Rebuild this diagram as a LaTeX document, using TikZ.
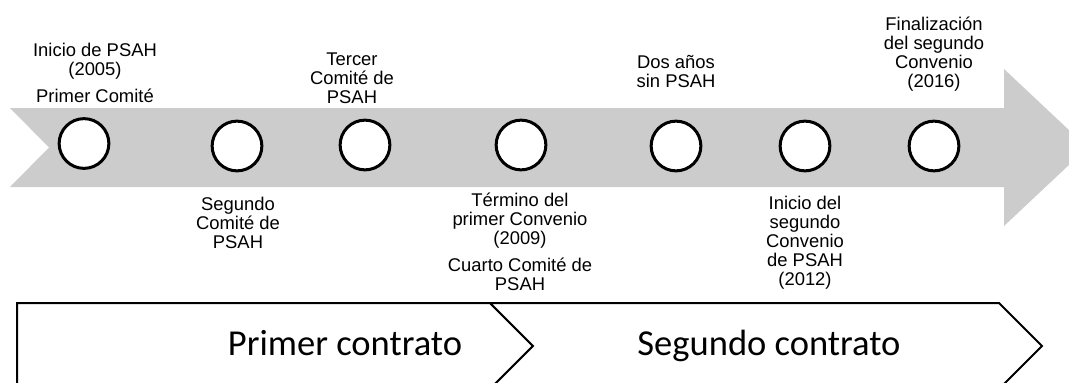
\documentclass[tikz,border=0pt]{standalone}
\usepackage{fontspec}
\setmainfont{Liberation Sans}
\newfontfamily\calibfont{Carlito}
\definecolor{bandgray}{RGB}{204,204,204}
\begin{document}
\begin{tikzpicture}[x=0.75pt,y=-0.75pt,
  lbl/.style={align=center,anchor=south,inner sep=0pt,text depth=0pt,
    font=\fontsize{13.8pt}{14.25pt}\selectfont},
  dot/.style={circle,draw=black,line width=2.25pt,fill=white,
    minimum size=37.3pt,inner sep=0pt},
  phase/.style={draw=black,line width=1.5pt,fill=white,line join=miter},
  phasetxt/.style={font=\calibfont\fontsize{27.4pt}{32pt}\selectfont,
    anchor=base,inner sep=0pt}]
\useasboundingbox (0,0) rectangle (1069,382);
\clip (0,0) rectangle (1069,382);
% timeline band
\fill[bandgray] (10,108) -- (1004,108) -- (1004,69) -- (1087.5,147.5)
  -- (1004,226) -- (1004,187) -- (10,187) -- (49,147.5) -- cycle;
% milestones
\node[dot] (c1) at (84,143.5) {};
\node[dot] (c2) at (237,146) {};
\node[dot] (c3) at (365,145) {};
\node[dot] (c4) at (521,145) {};
\node[dot] (c5) at (676,146) {};
\node[dot] (c6) at (805,146) {};
\node[dot] (c7) at (934,146) {};
% labels above
\node[lbl] (l1) at (95,102.3) {Inicio de PSAH\\(2005)\\[6pt]Primer Comité};
\node[lbl] (l3) at (352,103.3) {Tercer\\Comité de\\PSAH};
\node[lbl] (l5) at (676,87.6) {Dos años\\sin PSAH};
\node[lbl] (l7) at (934,87.6) {Finalización\\del segundo\\Convenio\\(2016)};
% labels below
\node[lbl] (l2) at (238,249) {Segundo\\Comité de\\PSAH};
\node[lbl] (l4) at (520,290.6) {Término del\\primer Convenio\\(2009)\\[6pt]Cuarto Comité de\\PSAH};
\node[lbl] (l6) at (805,286) {Inicio del\\segundo\\Convenio\\de PSAH\\(2012)};
% contract phases
\draw[phase] (17,392) -- (17,303) -- (490,303) -- (533,346) -- (490,389) -- (17,392) -- cycle;
\draw[phase] (490,303) -- (999,303) -- (1042,346) -- (999,389) -- (490,389) -- (533,346) -- cycle;
\node[phasetxt] (p1) at (345,355) {Primer contrato};
\node[phasetxt] (p2) at (769,355) {Segundo contrato};
\end{tikzpicture}
\end{document}
